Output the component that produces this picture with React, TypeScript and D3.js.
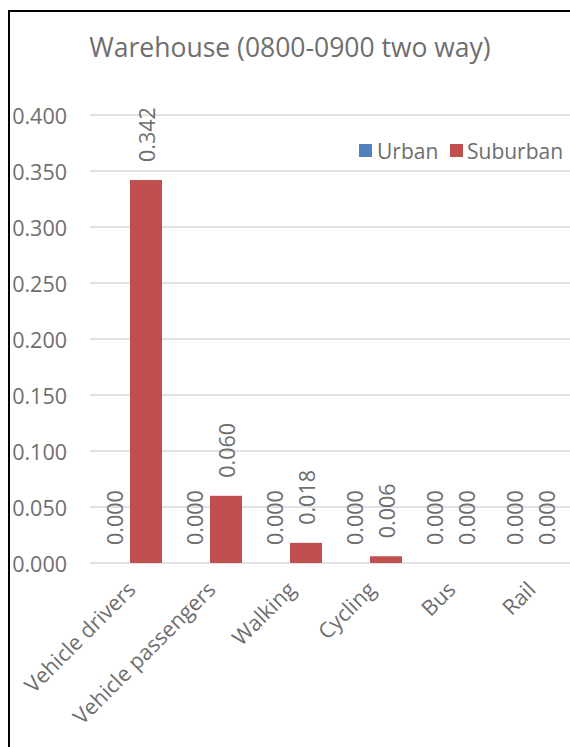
import React from "react";
import * as d3 from "d3";

const categories = ["Vehicle drivers", "Vehicle passengers", "Walking", "Cycling", "Bus", "Rail"];
const seriesNames = ["Urban", "Suburban"];
const urbanValues = [0.0, 0.0, 0.0, 0.0, 0.0, 0.0];
const suburbanValues = [0.342, 0.06, 0.018, 0.006, 0.0, 0.0];
const yTicks = [0, 0.05, 0.1, 0.15, 0.2, 0.25, 0.3, 0.35, 0.4];
const title = "Warehouse (0800-0900 two way)";
const colors = ["#4F81BD", "#C0504D"];

const W = 570;
const H = 747;
const FONT = "'Open Sans', sans-serif";
const TEXT = "#6e6e6e";
const FS = 21.5;

export default function App() {
  const y = d3.scaleLinear().domain([0, 0.4]).range([563, 115]);
  const x0 = d3.scaleBand<string>().domain(categories).range([90, 570]).padding(0);
  const step = x0.bandwidth();
  const x1 = d3.scaleBand<string>().domain(seriesNames).range([step * 0.1, step * 0.9]).padding(0);
  const fmt = d3.format(".3f");
  const series = [urbanValues, suburbanValues];

  return (
    <svg width={W} height={H} style={{ position: "absolute", left: 0, top: 0, background: "#fff" }} fontFamily={FONT}>
      <rect x={0} y={0} width={W} height={H} fill="#fff" />
      <line x1={9} y1={11} x2={W + 5} y2={11} stroke="#000" strokeWidth={2} />
      <line x1={9} y1={10} x2={9} y2={H + 5} stroke="#000" strokeWidth={2} />

      <text x={290} y={57} textAnchor="middle" fontSize={26.5} fill={TEXT}>{title}</text>

      {yTicks.map((t) => (
        <g key={t}>
          <line x1={90} x2={570} y1={y(t)} y2={y(t)} stroke="#d9d9d9" strokeWidth={1.5} />
          <text x={67} y={y(t)} textAnchor="end" dominantBaseline="central" fontSize={FS} fill={TEXT}>{fmt(t)}</text>
        </g>
      ))}

      {categories.map((c, i) => (
        <g key={c} transform={`translate(${x0(c)},0)`}>
          {seriesNames.map((s, si) => {
            const v = series[si][i];
            const bx = x1(s)!;
            const bw = x1.bandwidth();
            const top = y(v);
            const cx = bx + bw / 2;
            return (
              <g key={s}>
                {v > 0 && <rect x={bx} y={top} width={bw} height={y(0) - top} fill={colors[si]} />}
                <text
                  transform={`translate(${cx},${top - 18}) rotate(-90)`}
                  textAnchor="start"
                  dominantBaseline="central"
                  fontSize={FS}
                  fill={TEXT}
                >
                  {fmt(v)}
                </text>
              </g>
            );
          })}
          <text
            transform={`translate(${step / 2 + 1},${585}) rotate(-45)`}
            textAnchor="end"
            dominantBaseline="central"
            fontSize={FS}
            fill={TEXT}
          >
            {c}
          </text>
        </g>
      ))}

      <rect x={359} y={144} width={13} height={13} fill={colors[0]} />
      <text x={377} y={151} dominantBaseline="central" fontSize={21} fill={TEXT}>{seriesNames[0]}</text>
      <rect x={450} y={144} width={13} height={13} fill={colors[1]} />
      <text x={467} y={151} dominantBaseline="central" fontSize={21} fill={TEXT}>{seriesNames[1]}</text>
    </svg>
  );
}
